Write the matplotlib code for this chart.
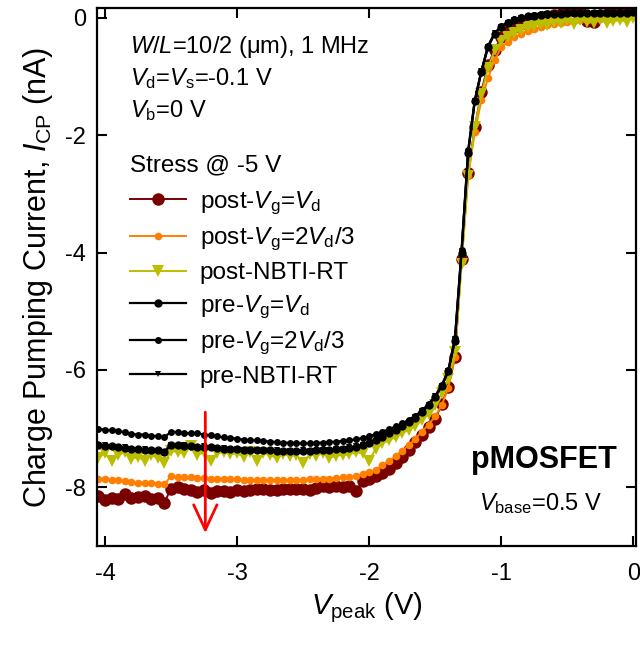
import matplotlib
matplotlib.use("Agg")
import matplotlib.pyplot as plt
import numpy as np

plt.rcParams['font.family'] = ['Liberation Sans', 'DejaVu Sans']
plt.rcParams['mathtext.fontset'] = 'custom'
plt.rcParams['mathtext.rm'] = 'Liberation Sans'
plt.rcParams['mathtext.it'] = 'Liberation Sans:italic'
plt.rcParams['mathtext.bf'] = 'Liberation Sans:bold'

# ---------------- data ----------------
vpeak = [-4.05, -4.00, -3.95, -3.90, -3.85, -3.80, -3.75, -3.70, -3.65, -3.60,
         -3.55, -3.50, -3.45, -3.40, -3.35, -3.30, -3.25, -3.20, -3.15, -3.10,
         -3.05, -3.00, -2.95, -2.90, -2.85, -2.80, -2.75, -2.70, -2.65, -2.60,
         -2.55, -2.50, -2.45, -2.40, -2.35, -2.30, -2.25, -2.20, -2.15, -2.10,
         -2.05, -2.00, -1.95, -1.90, -1.85, -1.80, -1.75, -1.70, -1.65, -1.60,
         -1.55, -1.50, -1.45, -1.40, -1.35, -1.30, -1.25, -1.20, -1.15, -1.10,
         -1.05, -1.00, -0.95, -0.90, -0.85, -0.80, -0.75, -0.70, -0.65, -0.60,
         -0.55, -0.50, -0.45, -0.40, -0.35, -0.30, -0.25, -0.20, -0.15, -0.10,
         -0.05, 0.00]

post_vg_vd = [-8.15, -8.22, -8.18, -8.20, -8.12, -8.18, -8.16, -8.14, -8.20, -8.18,
              -8.26, -8.02, -8.00, -8.03, -8.05, -8.08, -8.04, -8.10, -8.07, -8.06,
              -8.08, -8.05, -8.06, -8.04, -8.03, -8.02, -8.05, -8.04, -8.03, -8.02,
              -8.03, -8.02, -8.04, -8.01, -7.98, -8.00, -7.97, -8.00, -7.98, -8.06,
              -7.90, -7.86, -7.80, -7.75, -7.68, -7.58, -7.48, -7.36, -7.22, -7.10,
              -6.98, -6.84, -6.58, -6.29, -5.78, -4.11, -2.64, -1.86, -1.26, -0.80,
              -0.55, -0.32, -0.24, -0.15, -0.10, -0.05, 0.00, 0.02, 0.04, 0.05,
              0.07, 0.10, 0.13, 0.12, -0.05, -0.07, 0.05, 0.07, 0.08, 0.12,
              0.10, 0.11]

post_vg_2vd3 = [-7.85, -7.86, -7.88, -7.88, -7.90, -7.91, -7.92, -7.92, -7.93, -7.94,
                -7.95, -7.81, -7.82, -7.83, -7.83, -7.84, -7.84, -7.85, -7.85, -7.86,
                -7.86, -7.86, -7.87, -7.87, -7.87, -7.88, -7.88, -7.88, -7.88, -7.87,
                -7.87, -7.87, -7.86, -7.86, -7.85, -7.85, -7.84, -7.83, -7.82, -7.81,
                -7.78, -7.74, -7.70, -7.62, -7.55, -7.47, -7.38, -7.28, -7.17, -7.05,
                -6.93, -6.79, -6.60, -6.30, -5.78, -4.15, -2.70, -1.95, -1.40, -1.03,
                -0.72, -0.50, -0.41, -0.33, -0.27, -0.22, -0.19, -0.15, -0.12, -0.10,
                -0.08, -0.06, -0.05, -0.04, -0.03, -0.02, -0.02, -0.01, 0.00, 0.01,
                0.02, 0.03]

post_nbti = [-7.50, -7.42, -7.55, -7.45, -7.40, -7.52, -7.48, -7.55, -7.45, -7.50,
             -7.58, -7.38, -7.40, -7.42, -7.30, -7.45, -7.40, -7.55, -7.42, -7.40,
             -7.44, -7.42, -7.48, -7.40, -7.55, -7.42, -7.45, -7.50, -7.43, -7.47,
             -7.45, -7.58, -7.44, -7.46, -7.42, -7.50, -7.46, -7.45, -7.44, -7.40,
             -7.42, -7.55, -7.34, -7.25, -7.20, -7.14, -7.08, -7.02, -6.95, -6.86,
             -6.75, -6.60, -6.40, -6.15, -5.70, -4.20, -2.70, -1.85, -1.30, -0.85,
             -0.55, -0.40, -0.32, -0.25, -0.20, -0.16, -0.13, -0.10, -0.12, -0.06,
             -0.09, -0.04, -0.10, -0.03, -0.07, -0.08, -0.02, -0.09, -0.05, -0.04,
             -0.06, 0.00]

pre_vg_vd = [-7.28, -7.30, -7.30, -7.32, -7.33, -7.34, -7.35, -7.36, -7.37, -7.37,
             -7.39, -7.27, -7.28, -7.29, -7.30, -7.31, -7.31, -7.32, -7.33, -7.34,
             -7.35, -7.35, -7.36, -7.36, -7.37, -7.37, -7.37, -7.38, -7.38, -7.38,
             -7.38, -7.38, -7.38, -7.37, -7.37, -7.36, -7.35, -7.34, -7.33, -7.31,
             -7.28, -7.24, -7.19, -7.14, -7.08, -7.02, -6.96, -6.89, -6.81, -6.72,
             -6.60, -6.46, -6.28, -6.02, -5.50, -4.00, -2.30, -1.42, -0.92, -0.50,
             -0.27, -0.15, -0.08, -0.03, 0.00, 0.03, 0.04, 0.05, 0.06, 0.07,
             0.07, 0.08, 0.08, 0.08, 0.08, 0.09, 0.09, 0.09, 0.09, 0.09,
             0.09, 0.10]

pre_vg_2vd3 = [-7.00, -7.02, -7.03, -7.04, -7.06, -7.09, -7.10, -7.10, -7.12, -7.13,
               -7.15, -7.05, -7.06, -7.08, -7.08, -7.08, -7.10, -7.11, -7.13, -7.15,
               -7.16, -7.17, -7.19, -7.20, -7.20, -7.21, -7.22, -7.23, -7.24, -7.24,
               -7.25, -7.25, -7.25, -7.24, -7.24, -7.23, -7.22, -7.21, -7.20, -7.18,
               -7.16, -7.13, -7.09, -7.05, -7.01, -6.96, -6.91, -6.85, -6.78, -6.69,
               -6.58, -6.44, -6.26, -6.00, -5.45, -3.95, -2.25, -1.40, -0.90, -0.48,
               -0.26, -0.14, -0.07, -0.02, 0.01, 0.03, 0.05, 0.06, 0.07, 0.07,
               0.08, 0.08, 0.08, 0.08, 0.09, 0.09, 0.09, 0.09, 0.09, 0.10,
               0.10, 0.10]

pre_nbti = [-7.30, -7.28, -7.31, -7.33, -7.32, -7.35, -7.36, -7.35, -7.38, -7.38,
            -7.40, -7.28, -7.29, -7.28, -7.31, -7.32, -7.30, -7.33, -7.34, -7.33,
            -7.36, -7.34, -7.37, -7.37, -7.36, -7.38, -7.38, -7.37, -7.39, -7.38,
            -7.39, -7.37, -7.38, -7.38, -7.36, -7.37, -7.34, -7.35, -7.32, -7.30,
            -7.27, -7.23, -7.18, -7.13, -7.07, -7.01, -6.95, -6.88, -6.80, -6.70,
            -6.59, -6.45, -6.27, -6.01, -5.48, -3.98, -2.28, -1.41, -0.91, -0.49,
            -0.26, -0.15, -0.08, -0.03, 0.00, 0.02, 0.04, 0.05, 0.06, 0.06,
            0.07, 0.07, 0.08, 0.08, 0.08, 0.08, 0.09, 0.09, 0.09, 0.09,
            0.09, 0.09]

series_labels = [r'post-$V_{\rm g}$=$V_{\rm d}$',
                 r'post-$V_{\rm g}$=2$V_{\rm d}$/3',
                 'post-NBTI-RT',
                 r'pre-$V_{\rm g}$=$V_{\rm d}$',
                 r'pre-$V_{\rm g}$=2$V_{\rm d}$/3',
                 'pre-NBTI-RT']

# ---------------- figure ----------------
fig = plt.figure(figsize=(6.4, 6.46), dpi=100)
ax = fig.add_axes([0.1516, 0.1548, 0.842, 0.8328])

styles = [
    dict(color='#7a0000', marker='o', ms=9.0, lw=1.4),
    dict(color='#ff8000', marker='o', ms=5.5, lw=1.4),
    dict(color='#bdbd00', marker='v', ms=8.5, lw=1.4),
    dict(color='black', marker='o', ms=6.0, lw=1.6),
    dict(color='black', marker='o', ms=5.0, lw=1.6),
    dict(color='black', marker='v', ms=5.0, lw=1.6),
]
ys = [post_vg_vd, post_vg_2vd3, post_nbti, pre_vg_vd, pre_vg_2vd3, pre_nbti]
for y, lab, st in zip(ys, series_labels, styles):
    ax.plot(vpeak, y, label=lab, color=st['color'], marker=st['marker'],
            markersize=st['ms'], linewidth=st['lw'], markeredgewidth=0)

ax.set_xlim(-4.06, 0.02)
ax.set_ylim(-9.0, 0.17)
ax.set_xticks([-4, -3, -2, -1, 0])
ax.set_xticklabels(['-4', '-3', '-2', '-1', '0'])
ax.set_yticks([0, -2, -4, -6, -8])
ax.set_yticklabels(['0', '-2', '-4', '-6', '-8'])
ax.tick_params(direction='in', length=7, width=1.5, top=True, right=True,
               labelsize=17)
ax.tick_params(axis='x', pad=12)
ax.tick_params(axis='y', pad=8)
for s in ax.spines.values():
    s.set_linewidth(1.6)

ax.set_xlabel(r'$V_{\rm peak}$ (V)', fontsize=21, labelpad=4)
ax.set_ylabel(r'Charge Pumping Current, $I_{\rm CP}$ (nA)', fontsize=22,
              labelpad=7)

# annotations
ax.text(0.061, 0.916, r'$W$/$L$=10/2 (μm), 1 MHz', transform=ax.transAxes,
        fontsize=17, va='baseline', ha='left')
ax.text(0.061, 0.857, r'$V_{\rm d}$=$V_{\rm s}$=-0.1 V', transform=ax.transAxes,
        fontsize=17, va='baseline', ha='left')
ax.text(0.061, 0.797, r'$V_{\rm b}$=0 V', transform=ax.transAxes,
        fontsize=17, va='baseline', ha='left')
ax.text(0.829, 0.145, 'pMOSFET', transform=ax.transAxes, fontsize=22,
        fontweight='bold', va='baseline', ha='center')
ax.text(0.823, 0.067, r'$V_{\rm base}$=0.5 V', transform=ax.transAxes,
        fontsize=17, va='baseline', ha='center')

ax.annotate('', xy=(-3.24, -8.78), xytext=(-3.24, -6.72),
            arrowprops=dict(arrowstyle='->,head_length=0.9,head_width=0.42',
                            color='red', lw=2, mutation_scale=20,
                            shrinkA=0, shrinkB=0))

leg = ax.legend(loc='upper left', bbox_to_anchor=(0.061, 0.727), frameon=False,
                title='Stress @ -5 V', alignment='left', fontsize=17.5,
                title_fontsize=17.5, handlelength=2.3, handletextpad=0.58,
                labelspacing=0.37, borderpad=0, borderaxespad=0)
leg._legend_box.sep = 9

fig.savefig('out.png', dpi=100)
